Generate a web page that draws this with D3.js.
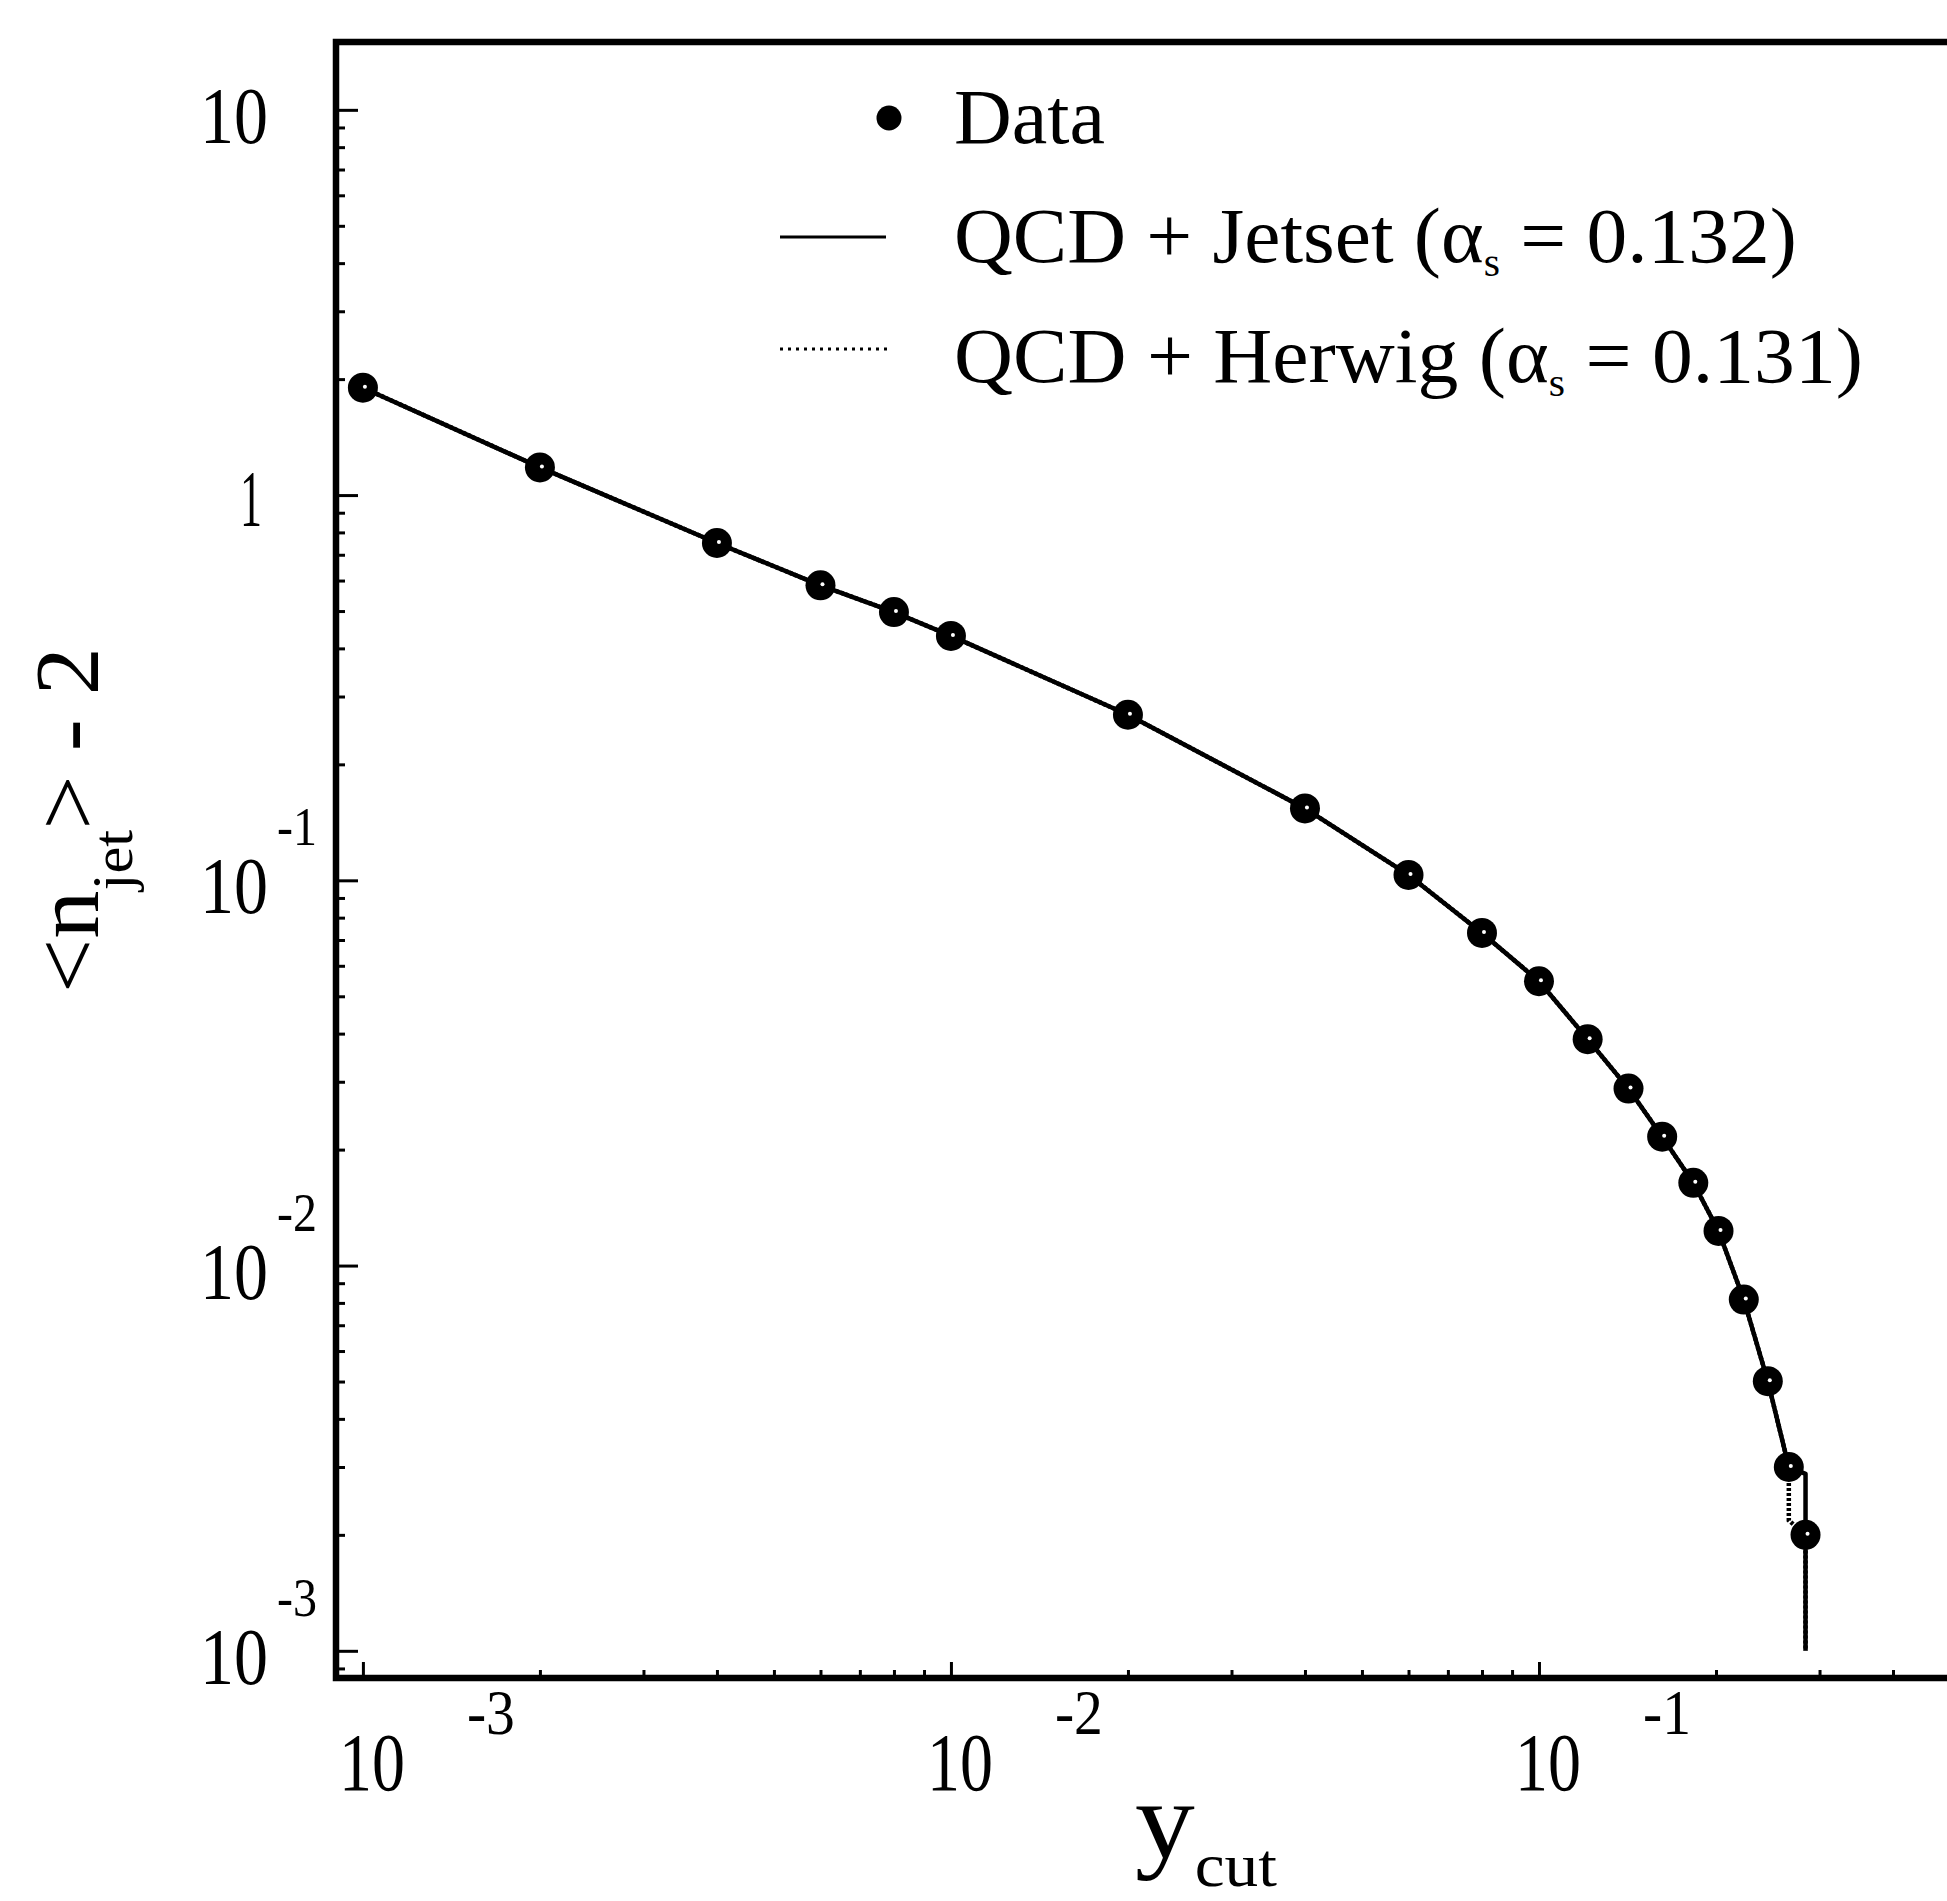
<!DOCTYPE html>
<html>
<head>
<meta charset="utf-8">
<script src="https://cdn.jsdelivr.net/npm/d3@7"></script>
<style>
  html, body { margin: 0; padding: 0; background: #fff; }
  svg { display: block; }
  text { font-family: "Liberation Serif", "Times New Roman", serif; fill: #000; }
</style>
</head>
<body>
<div id="chart"></div>
<script>
// Measured jet rate: y_cut and <n_jet> - 2
const ycut = [0.001, 0.002, 0.004, 0.006, 0.008, 0.01, 0.02, 0.04, 0.06, 0.08,
              0.1, 0.121, 0.142, 0.162, 0.183, 0.202, 0.223, 0.245, 0.266, 0.284];
const njet = [1.90, 1.18, 0.751, 0.583, 0.497, 0.431, 0.269, 0.1537, 0.1033, 0.0730,
              0.0547, 0.0387, 0.0288, 0.0216, 0.0164, 0.0123, 0.00816, 0.00501, 0.00300, 0.00200];

// QCD + Jetset prediction (alpha_s = 0.132)
const jetsetX = [0.001, 0.002, 0.004, 0.006, 0.008, 0.01, 0.02, 0.04, 0.06, 0.08,
                 0.1, 0.121, 0.142, 0.162, 0.183, 0.202, 0.223, 0.245, 0.266, 0.284, 0.284, 0.284];
const jetsetY = [1.90, 1.18, 0.751, 0.583, 0.497, 0.431, 0.269, 0.1537, 0.1033, 0.0730,
                 0.0547, 0.0387, 0.0288, 0.0216, 0.0164, 0.0123, 0.00816, 0.00501, 0.00300, 0.00288, 0.00200, 0.00100];

// QCD + Herwig prediction (alpha_s = 0.131)
const herwigX = [0.001, 0.002, 0.004, 0.006, 0.008, 0.01, 0.02, 0.04, 0.06, 0.08,
                 0.1, 0.121, 0.142, 0.162, 0.183, 0.202, 0.223, 0.245, 0.266, 0.266, 0.284, 0.284];
const herwigY = [1.90, 1.18, 0.751, 0.583, 0.497, 0.431, 0.269, 0.1537, 0.1033, 0.0730,
                 0.0547, 0.0387, 0.0288, 0.0216, 0.0164, 0.0123, 0.00816, 0.00501, 0.00300, 0.00218, 0.00200, 0.00100];

// Axis decades and their exponent labels
const yDecades = [10, 1, 0.1, 0.01, 0.001];
const yDecadeExp = ["", "", "-1", "-2", "-3"];
const xDecades = [0.001, 0.01, 0.1];
const xDecadeExp = ["-3", "-2", "-1"];

const legendLabels = ["Data", "QCD + Jetset (α", "QCD + Herwig (α"];
const legendAlphas = ["", " = 0.132)", " = 0.131)"];

const W = 1947, H = 1901;
const frame = { left: 336, top: 42, bottom: 1678, right: 2127 };

const svg = d3.select("#chart").append("svg")
  .attr("width", W).attr("height", H)
  .style("background", "#fff");

const x = d3.scaleLog().domain([0.0009, 1]).range([frame.left, frame.right]);
const y = d3.scaleLog().domain([0.00085, 15]).range([frame.bottom, frame.top]);

const isDecade = v => Math.abs(Math.log10(v) - Math.round(Math.log10(v))) < 1e-9;

// squeeze a text group horizontally to a given width
function fit(g, width) {
  const w = g.select("text").node().getBBox().width;
  const t = g.attr("transform");
  g.attr("transform", `${t} scale(${width / w},1)`);
}

// ---- ticks (inward) ----
function styleTicks(g) {
  g.select(".domain").remove();
  g.selectAll("line").attr("stroke", "#000").attr("stroke-width", 3);
}
const yMinor = y.ticks().filter(v => !isDecade(v));
const yMajor = y.ticks().filter(v => isDecade(v));
svg.append("g").attr("transform", `translate(${frame.left},0)`)
  .call(d3.axisRight(y).tickValues(yMinor).tickSize(9).tickFormat(""))
  .call(styleTicks);
svg.append("g").attr("transform", `translate(${frame.left},0)`)
  .call(d3.axisRight(y).tickValues(yMajor).tickSize(22).tickFormat(""))
  .call(styleTicks);

const xMinor = x.ticks().filter(v => !isDecade(v) && x(v) < W);
const xMajor = x.ticks().filter(v => isDecade(v) && x(v) < W);
svg.append("g").attr("transform", `translate(0,${frame.bottom})`)
  .call(d3.axisTop(x).tickValues(xMinor).tickSize(8).tickFormat(""))
  .call(styleTicks);
svg.append("g").attr("transform", `translate(0,${frame.bottom})`)
  .call(d3.axisTop(x).tickValues(xMajor).tickSize(16).tickFormat(""))
  .call(styleTicks);

// ---- frame ----
svg.append("path")
  .attr("d", `M${W + 20},${frame.top}H${frame.left}V${frame.bottom}H${W + 20}`)
  .attr("fill", "none").attr("stroke", "#000").attr("stroke-width", 6.5)
  .attr("stroke-linejoin", "miter");

// ---- y tick labels ----
yDecades.forEach((v, i) => {
  const ty = y(v);
  if (v === 1) {
    const g = svg.append("g").attr("transform", `translate(251,${ty + 31})`);
    g.append("text").attr("text-anchor", "middle").attr("font-size", 80).text("1");
    fit(g, 22);
    return;
  }
  const g = svg.append("g").attr("transform", `translate(268,${ty + 33})`);
  g.append("text").attr("text-anchor", "end").attr("font-size", 80).text("10");
  fit(g, 68);
  if (yDecadeExp[i]) {
    const s = svg.append("g").attr("transform", `translate(277,${ty - 35})`);
    s.append("text").attr("text-anchor", "start").attr("font-size", 54).text(yDecadeExp[i]);
    fit(s, 40);
  }
});

// ---- x tick labels ----
xDecades.forEach((v, i) => {
  const tx = x(v);
  const g = svg.append("g").attr("transform", `translate(${tx + 9},1790)`);
  g.append("text").attr("text-anchor", "middle").attr("font-size", 82).text("10");
  fit(g, 66);
  const s = svg.append("g").attr("transform", `translate(${tx + 104},1734)`);
  s.append("text").attr("text-anchor", "start").attr("font-size", 64).text(xDecadeExp[i]);
  fit(s, 48);
});

// ---- axis titles ----
{
  const g = svg.append("g").attr("transform", "translate(1135,1858)");
  const t = g.append("text").attr("font-size", 110);
  t.append("tspan").text("y");
  t.append("tspan").attr("font-size", 62).attr("dy", 28).text("cut");
  fit(g, 142);
}
{
  const g = svg.append("g").attr("transform", "translate(98,820) rotate(-90)");
  const t = g.append("text").attr("font-size", 92).attr("text-anchor", "middle");
  t.append("tspan").text("<n");
  t.append("tspan").attr("font-size", 58).attr("dy", 34).text("jet");
  t.append("tspan").attr("dy", -34).text("> - 2");
  fit(g, 346);
}

// ---- model curves ----
const line = d3.line().x(d => x(d[0])).y(d => y(d[1]));
svg.append("path")
  .datum(jetsetX.map((v, i) => [v, jetsetY[i]]))
  .attr("d", line).attr("fill", "none").attr("stroke", "#000")
  .attr("stroke-width", 4.5).attr("stroke-linejoin", "round");
svg.append("path")
  .datum(herwigX.map((v, i) => [v, herwigY[i]]))
  .attr("d", line).attr("fill", "none").attr("stroke", "#000")
  .attr("stroke-width", 4.5).attr("stroke-dasharray", "3,2");

// ---- data points ----
const pts = svg.append("g");
ycut.forEach((v, i) => {
  pts.append("circle").attr("cx", x(v)).attr("cy", y(njet[i])).attr("r", 15).attr("fill", "#000");
  pts.append("circle").attr("cx", x(v) + 2).attr("cy", y(njet[i]) - 1).attr("r", 2).attr("fill", "#fff");
});

// ---- legend ----
const leg = svg.append("g");
leg.append("circle").attr("cx", 889).attr("cy", 118).attr("r", 12.5).attr("fill", "#000");
leg.append("line").attr("x1", 780).attr("x2", 886).attr("y1", 237).attr("y2", 237)
  .attr("stroke", "#000").attr("stroke-width", 3);
leg.append("line").attr("x1", 780).attr("x2", 890).attr("y1", 349).attr("y2", 349)
  .attr("stroke", "#000").attr("stroke-width", 3).attr("stroke-dasharray", "3,5");

const legBase = [143, 262, 382];
const legWidth = [151, 843, 909];
legendLabels.forEach((lab, i) => {
  const g = leg.append("g").attr("transform", `translate(954,${legBase[i]})`);
  const t = g.append("text").attr("font-size", 78);
  t.append("tspan").text(lab);
  if (legendAlphas[i]) {
    t.append("tspan").attr("font-size", 40).attr("dy", 14).text("s");
    t.append("tspan").attr("dy", -14).text(legendAlphas[i]);
  }
  fit(g, legWidth[i]);
});
</script>
</body>
</html>
